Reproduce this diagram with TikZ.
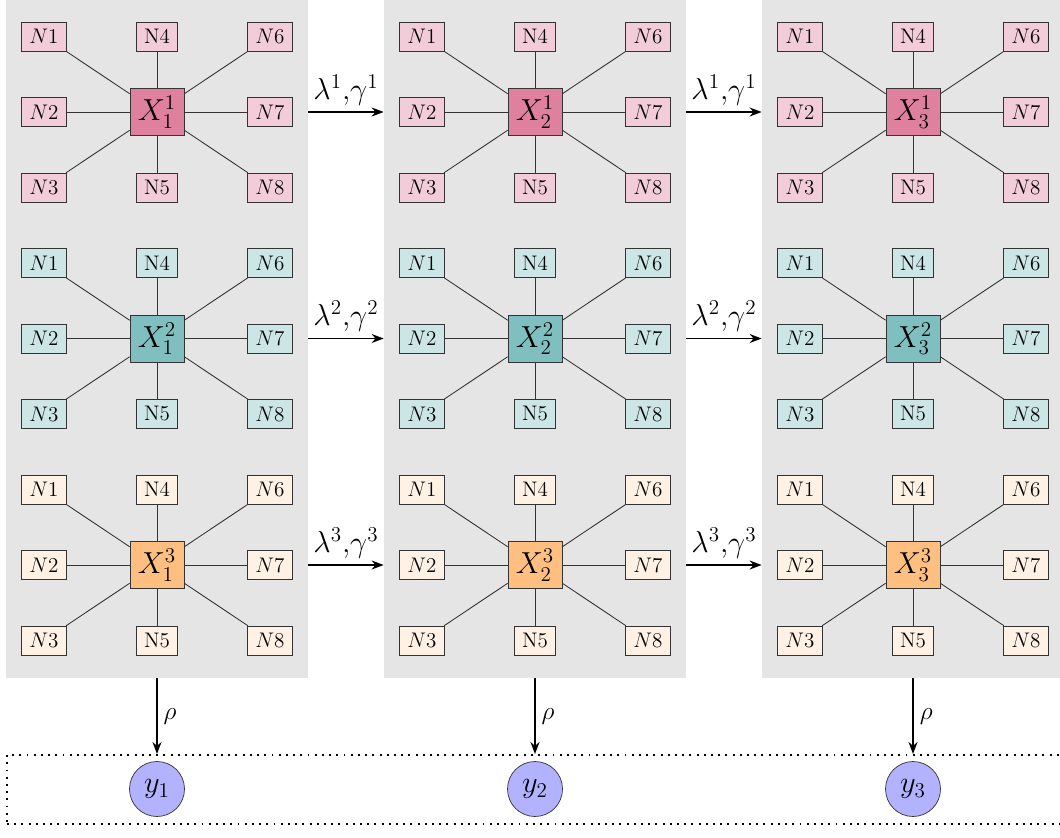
\documentclass[tikz,border=0pt]{standalone}
\usetikzlibrary{positioning,arrows.meta}

\colorlet{pinkdark}{purple!50}
\colorlet{pinklight}{purple!20}
\colorlet{tealdark}{teal!50}
\colorlet{teallight}{teal!20}
\colorlet{orangedark}{orange!50}
\colorlet{orangelight}{orange!10}

\begin{document}
\begin{tikzpicture}[auto, node distance=1.51cm and 2.26cm, on grid,
                    small node/.style={draw=black!80,inner xsep=4.5pt,inner ysep=4.1pt,font=\large},
                    main node/.style={draw=black!80,minimum width=1.08cm,minimum height=0.94cm,font=\LARGE},
                    out node/.style={circle,draw=black!80,fill=blue!30,minimum size=1.1cm,font=\LARGE},
                    panel/.style={fill=gray!20,minimum width=6.04cm,minimum height=13.56cm,inner sep=0pt},
                    flow/.style={-{Stealth[length=2.4mm,width=1.8mm]},line width=1pt}]

  \useasboundingbox (0,0) rectangle (21.2,-16.74);

  % grey columns
  \foreach \c in {1,2,3}
    \node[panel] (P\c) at ({3.14+7.56*(\c-1)},-6.78) {};

  % dotted output strip
  \node[draw,line width=1.1pt,dash pattern=on 1.1pt off 3pt,minimum width=21.5cm,minimum height=1.38cm,
        anchor=north west,inner sep=0pt] (out) at (0.12,-15.08) {};

  \foreach \c in {1,2,3}{
    \foreach \r/\dark/\light in {1/pinkdark/pinklight,2/tealdark/teallight,3/orangedark/orangelight}{
      \node[main node,fill=\dark] (X\r\c) at ({3.14+7.56*(\c-1)},{-2.24-4.53*(\r-1)}) {$X_{\c}^{\r}$};
      \node[small node,fill=\light] (n1\r\c) [above left=of X\r\c] {$N1$};
      \node[small node,fill=\light] (n2\r\c) [left=of X\r\c] {$N2$};
      \node[small node,fill=\light] (n3\r\c) [below left=of X\r\c] {$N3$};
      \node[small node,fill=\light] (n4\r\c) [above=of X\r\c] {N4};
      \node[small node,fill=\light] (n5\r\c) [below=of X\r\c] {N5};
      \node[small node,fill=\light] (n6\r\c) [above right=of X\r\c] {$N6$};
      \node[small node,fill=\light] (n7\r\c) [right=of X\r\c] {$N7$};
      \node[small node,fill=\light] (n8\r\c) [below right=of X\r\c] {$N8$};
      \foreach \n in {1,...,8}
        \draw[black!80,line width=0.5pt] (X\r\c) -- (n\n\r\c);
    }
    \node[out node] (y\c) at ({3.14+7.56*(\c-1)},-15.78) {$y_{\c}$};
    \draw[flow] (P\c.south) -- node {\Large$\rho$} (P\c.south |- out.north);
  }

  % transitions between time steps
  \foreach \c/\d in {1/2,2/3}
    \foreach \r in {1,2,3}
      \draw[flow] (P\c.east |- X\r\c) -- node {\LARGE$\lambda^{\r}{,}\gamma^{\r}$} (P\d.west |- X\r\c);

\end{tikzpicture}
\end{document}
